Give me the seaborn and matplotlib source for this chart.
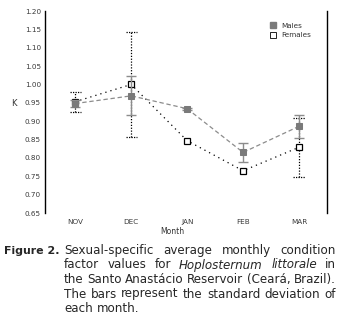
import numpy as np
import pandas as pd
import matplotlib
matplotlib.use('Agg')
import matplotlib.pyplot as plt
from matplotlib.lines import Line2D
from matplotlib.ticker import FixedLocator
import seaborn as sns

# ---- data ----
months = ["NOV", "DEC", "JAN", "FEB", "MAR"]
male_k = [0.948, 0.969, 0.934, 0.815, 0.886]
male_sd = [0.010, 0.053, 0.003, 0.026, 0.031]
female_k = [0.953, 1.000, 0.847, 0.765, 0.829]
female_sd = [0.027, 0.144, 0.0, 0.0, 0.081]
series_labels = ["Males", "Females"]
y_ticks = [0.65, 0.70, 0.75, 0.80, 0.85, 0.90, 0.95, 1.00, 1.05, 1.10, 1.15, 1.20]
y_tick_marks = [0.75, 0.95, 1.10]
x_label = "Month"
y_label = "K"
caption_head = "Figure 2."
caption_lines = [
    "Sexual-specific average monthly condition",
    "factor values for _Hoplosternum _littorale in",
    "the Santo Anastácio Reservoir (Ceará, Brazil).",
    "The bars represent the standard deviation of",
    "each month.",
]

W, H = 340, 318
sns.set_theme(style='white')
plt.rcParams['font.family'] = ['DejaVu Sans']

fig = plt.figure(figsize=(W / 100, H / 100), dpi=100)
fig.patch.set_facecolor('white')


def fx(x):
    return x / W


def fy(y):
    return 1 - y / H


ax = fig.add_axes([fx(45), fy(213), (327 - 45) / W, (213 - 11) / H])
ax.set_facecolor('white')

pos = np.arange(len(months))
df_m = pd.DataFrame({'pos': pos, 'K': male_k})
df_f = pd.DataFrame({'pos': pos, 'K': female_k})

male_col = '#8c8c8c'
sns.lineplot(data=df_m, x='pos', y='K', ax=ax, color=male_col, lw=0.9,
             linestyle=(0, (3.5, 2.2)), marker='s', markersize=4.2,
             markerfacecolor='#7a7a7a', markeredgecolor='#7a7a7a',
             sort=False, legend=False, zorder=4)
sns.lineplot(data=df_f, x='pos', y='K', ax=ax, color='black', lw=0.9,
             linestyle=(0, (1, 3.2)), marker='s', markersize=4.2,
             markerfacecolor='white', markeredgecolor='black', markeredgewidth=0.9,
             sort=False, legend=False, zorder=3)

# male SD bars (solid gray)
ax.errorbar(pos, male_k, yerr=male_sd, fmt='none', ecolor=male_col,
            elinewidth=1.0, capsize=3.6, capthick=1.0, zorder=3)

# female SD bars (dotted black)
fk = np.array(female_k)
fs = np.array(female_sd)
mask = fs > 0
ax.vlines(pos[mask], fk[mask] - fs[mask], fk[mask] + fs[mask], colors='black',
          linestyles=(0, (1, 1.3)), lw=0.9, zorder=2)
for sign in (-1, 1):
    ax.hlines(fk[mask] + sign * fs[mask], pos[mask] - 0.1, pos[mask] + 0.1,
              colors='black', linestyles=(0, (1, 1.0)), lw=0.9, zorder=2)

ax.set_xlim(-0.54, 4.5)
ax.set_ylim(0.65, 1.20)
ax.set_xlabel('')
ax.set_ylabel('')

for s in ('top', 'bottom'):
    ax.spines[s].set_visible(False)
for s in ('left', 'right'):
    ax.spines[s].set_visible(True)
    ax.spines[s].set_color('black')
    ax.spines[s].set_linewidth(1.0)

ax.set_yticks(y_ticks)
ax.set_yticklabels([f"{v:.2f}" for v in y_ticks])
ax.tick_params(axis='y', which='major', length=0, labelsize=5.2, pad=3.0,
               labelcolor='#3a3a3a')
ax.yaxis.set_minor_locator(FixedLocator(y_tick_marks))
ax.tick_params(axis='y', which='minor', direction='in', length=3, width=0.8,
               left=True, right=True, color='black')
ax.set_xticks(pos)
ax.set_xticklabels(months)
ax.tick_params(axis='x', length=0, labelsize=5.2, pad=4.5, labelcolor='#3a3a3a')
ax.grid(False)

fig.text(fx(14), fy(103), y_label, fontsize=6, color='#333333', ha='center', va='center')
fig.text(fx(172), fy(231), x_label, fontsize=5.5, color='#333333', ha='center', va='center')

handles = [
    Line2D([], [], linestyle='none', marker='s', markersize=4, markerfacecolor='#7a7a7a',
           markeredgecolor='#7a7a7a'),
    Line2D([], [], linestyle='none', marker='s', markersize=4, markerfacecolor='white',
           markeredgecolor='black', markeredgewidth=0.6),
]
ax.legend(handles, series_labels, loc='upper left', bbox_to_anchor=(fx(266), fy(19)),
          bbox_transform=fig.transFigure, frameon=False, fontsize=5.2,
          handlelength=1.0, handletextpad=0.6, borderpad=0, labelspacing=0.5,
          labelcolor='#333333')

# caption
renderer = fig.canvas.get_renderer()
left_px, right_px = 64, 336


def word_widths(words, size):
    out = []
    for w in words:
        italic = w.startswith('_')
        t = fig.text(0, 0, w.lstrip('_'), fontsize=size,
                     style='italic' if italic else 'normal')
        out.append(t.get_window_extent(renderer).width)
        t.remove()
    return out


probe = fig.text(0, 0, "a a", fontsize=10)
wa = fig.text(0, 0, "aa", fontsize=10)
space10 = probe.get_window_extent(renderer).width - wa.get_window_extent(renderer).width
probe.remove()
wa.remove()

naturals = []
for line in caption_lines[:-1]:
    words = line.split(' ')
    naturals.append(sum(word_widths(words, 10)) + space10 * (len(words) - 1))
cap_fs = 10 * (right_px - left_px - 1) / max(naturals)

fig.text(fx(4), fy(254), caption_head, fontsize=7.9, fontweight='bold',
         ha='left', va='baseline')
baselines = [254, 268.5, 283, 297.5, 312]
for i, line in enumerate(caption_lines):
    words = line.split(' ')
    objs = []
    widths = []
    for w in words:
        italic = w.startswith('_')
        txt = w.lstrip('_')
        t = fig.text(0, fy(baselines[i]), txt, fontsize=cap_fs,
                     style='italic' if italic else 'normal', ha='left', va='baseline')
        objs.append(t)
        widths.append(t.get_window_extent(renderer).width)
    if i < len(caption_lines) - 1 and len(words) > 1:
        gap = (right_px - left_px - sum(widths)) / (len(words) - 1)
    else:
        gap = space10 * cap_fs / 10
    x = left_px
    for t, wd in zip(objs, widths):
        t.set_x(fx(x))
        x += wd + gap

fig.savefig('out.png', dpi=100)
